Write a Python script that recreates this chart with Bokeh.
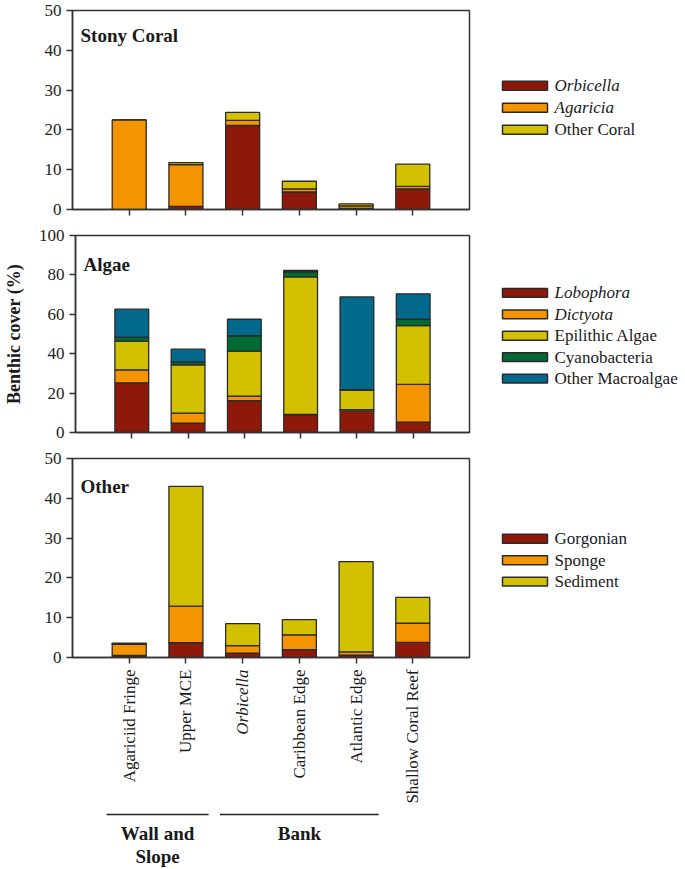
from bokeh.plotting import figure
from bokeh.layouts import column, row
from bokeh.models import Range1d, FixedTicker, ColumnDataSource
from bokeh.core.properties import value
from bokeh.embed import file_html
from bokeh.resources import INLINE

# ---------------- data ----------------
sites = ["Agariciid Fringe", "Upper MCE", "Orbicella", "Caribbean Edge",
         "Atlantic Edge", "Shallow Coral Reef"]
site_italic = [False, False, True, False, False, False]
site_pos = [1, 2, 3, 4, 5, 6]

group_names = ["Wall and\nSlope", "Bank"]
group_first = [1, 3]
group_last = [2, 5]

coral_series = ["Orbicella", "Agaricia", "Other Coral"]
coral_italic = [True, True, False]
orbicella = [0.0, 0.8, 21.1, 4.4, 0.3, 5.2]
agaricia = [22.5, 10.5, 1.3, 0.8, 0.6, 0.6]
other_coral = [0.0, 0.5, 2.0, 1.9, 0.5, 5.6]

algae_series = ["Lobophora", "Dictyota", "Epilithic Algae", "Cyanobacteria", "Other Macroalgae"]
algae_italic = [True, True, False, False, False]
lobophora = [25.2, 4.7, 16.2, 9.0, 10.8, 5.2]
dictyota = [6.6, 5.1, 2.2, 0.2, 0.8, 19.2]
epilithic = [14.6, 24.6, 22.9, 69.8, 9.9, 29.9]
cyanobacteria = [2.0, 1.5, 7.8, 2.6, 0.3, 3.2]
other_macroalgae = [14.2, 6.4, 8.4, 0.7, 47.0, 12.9]

other_series = ["Gorgonian", "Sponge", "Sediment"]
other_italic = [False, False, False]
gorgonian = [0.5, 3.7, 1.1, 2.0, 0.6, 3.8]
sponge = [2.8, 9.2, 1.9, 3.7, 0.8, 4.8]
sediment = [0.3, 30.1, 5.5, 3.8, 22.7, 6.5]

panel_titles = ["Stony Coral", "Algae", "Other"]
y_label = "Benthic cover (%)"

RED, ORANGE, YELLOW, GREEN, BLUE = "#8E190B", "#F39400", "#D3C100", "#006A34", "#02698C"
coral_colors = [RED, ORANGE, YELLOW]
algae_colors = [RED, ORANGE, YELLOW, GREEN, BLUE]
other_colors = [RED, ORANGE, YELLOW]

FONT = value("Liberation Serif")
EDGE = "#2a2a2a"
AX = "#333333"

W_MAIN = 472
W_LEG = 213
LEFT_B = 72
RIGHT_B = 3


def panel(title, series, cols, colors, ymax, ystep, top_b, frame_h, bot_b,
          title_px, ylab=None):
    H = top_b + frame_h + bot_b
    frame_w = W_MAIN - LEFT_B - RIGHT_B
    p = figure(width=W_MAIN, height=H, x_range=Range1d(0, 7), y_range=Range1d(0, ymax),
               output_backend="svg", toolbar_location=None,
               min_border_left=LEFT_B, min_border_right=RIGHT_B,
               min_border_top=top_b, min_border_bottom=bot_b)
    p.background_fill_color = "white"
    p.border_fill_color = "white"
    p.outline_line_color = AX
    p.outline_line_width = 1.5
    p.grid.visible = False

    src = {"x": site_pos}
    for s, c in zip(series, cols):
        src[s] = c
    source = ColumnDataSource(src)
    p.vbar_stack(series, x="x", width=0.6, color=colors, line_color=EDGE,
                 line_width=1.3, source=source)

    # title inside the frame
    p.text(x=[8 * 7 / frame_w], y=[ymax - title_px * ymax / frame_h], text=[title],
           text_font=FONT, text_font_style="bold", text_font_size="19px",
           text_align="left", text_baseline="alphabetic", text_color="#1a1a1a")

    # y axis
    ya = p.yaxis[0]
    ya.ticker = FixedTicker(ticks=list(range(0, ymax + 1, ystep)))
    ya.major_label_text_font = "Liberation Serif"
    ya.major_label_text_font_size = "17px"
    ya.major_label_text_color = "#222222"
    ya.major_tick_out = 6
    ya.major_tick_in = 0
    ya.minor_tick_out = 0
    ya.minor_tick_in = 0
    ya.major_label_standoff = 5
    ya.axis_line_color = AX
    ya.axis_line_width = 1.5
    ya.major_tick_line_color = AX
    ya.major_tick_line_width = 1.5
    if ylab:
        ya.axis_label = ylab
        ya.axis_label_text_font = "Liberation Serif"
        ya.axis_label_text_font_style = "bold"
        ya.axis_label_text_font_size = "18px"
        ya.axis_label_text_color = "#1a1a1a"
        ya.axis_label_standoff = 12

    # x axis: ticks only (labels drawn below the last panel)
    xa = p.xaxis[0]
    xa.ticker = FixedTicker(ticks=site_pos)
    xa.major_label_overrides = {i: "" for i in site_pos}
    xa.major_label_text_font_size = "0px"
    xa.major_label_standoff = 0
    xa.major_tick_out = 6
    xa.major_tick_in = 0
    xa.minor_tick_out = 0
    xa.minor_tick_in = 0
    xa.axis_line_color = AX
    xa.axis_line_width = 1.5
    xa.major_tick_line_color = AX
    xa.major_tick_line_width = 1.5
    return p, H


def legend_fig(series, italic, colors, H, first_row, step):
    lf = figure(width=W_LEG, height=H, x_range=Range1d(0, W_LEG), y_range=Range1d(-H, 0),
                output_backend="svg", toolbar_location=None, min_border=0,
                x_axis_location=None, y_axis_location=None)
    lf.outline_line_color = None
    lf.grid.visible = False
    ys = [-(first_row + i * step) for i in range(len(series))]
    lf.rect(x=[52.5] * len(series), y=ys, width=45, height=10, fill_color=colors,
            line_color=EDGE, line_width=1.5)
    lf.text(x=[82] * len(series), y=ys, text=series,
            text_font_style=["italic" if it else "normal" for it in italic],
            text_font=FONT, text_font_size="17px", text_color="#1a1a1a",
            text_align="left", text_baseline="middle")
    return lf


p1, h1 = panel(panel_titles[0], coral_series, [orbicella, agaricia, other_coral],
               coral_colors, 50, 10, 10, 199, 13, 25)
p2, h2 = panel(panel_titles[1], algae_series,
               [lobophora, dictyota, epilithic, cyanobacteria, other_macroalgae],
               algae_colors, 100, 20, 13, 197, 13, 29, ylab=y_label)
p3, h3 = panel(panel_titles[2], other_series, [gorgonian, sponge, sediment],
               other_colors, 50, 10, 13, 199, 11, 28)

l1 = legend_fig(coral_series, coral_italic, coral_colors, h1, 84, 24.5)
l2 = legend_fig(algae_series, algae_italic, algae_colors, h2, 65, 24.25)
l3 = legend_fig(other_series, other_italic, other_colors, h3, 90, 24)

# bottom strip: category labels and site groups
H4 = 869 - (h1 + h2 + h3)
p4 = figure(width=W_MAIN, height=H4, x_range=p3.x_range, y_range=Range1d(-H4, 0),
            output_backend="svg", toolbar_location=None,
            min_border_left=LEFT_B, min_border_right=RIGHT_B, min_border_top=0,
            min_border_bottom=0, x_axis_location=None, y_axis_location=None)
p4.outline_line_color = None
p4.grid.visible = False
p4.text(x=site_pos, y=[-1] * len(sites), text=sites, angle=1.5707963,
        text_font=FONT, text_font_size="17px",
        text_font_style=["italic" if it else "normal" for it in site_italic],
        text_color="#1a1a1a", text_align="right", text_baseline="middle")
pad = 0.4
p4.segment(x0=[g - pad for g in group_first], y0=[-146] * 2,
           x1=[g + pad for g in group_last], y1=[-146] * 2,
           line_color="#222222", line_width=1.5)
p4.text(x=[(a + b) / 2 for a, b in zip(group_first, group_last)], y=[-154] * 2,
        text=group_names, text_font=FONT, text_font_style="bold", text_font_size="19px",
        text_color="#1a1a1a", text_align="center", text_baseline="top",
        text_line_height=1.12)

layout = column(row(p1, l1), row(p2, l2), row(p3, l3), p4)

with open("out.html", "w") as f:
    f.write(file_html(layout, INLINE))
